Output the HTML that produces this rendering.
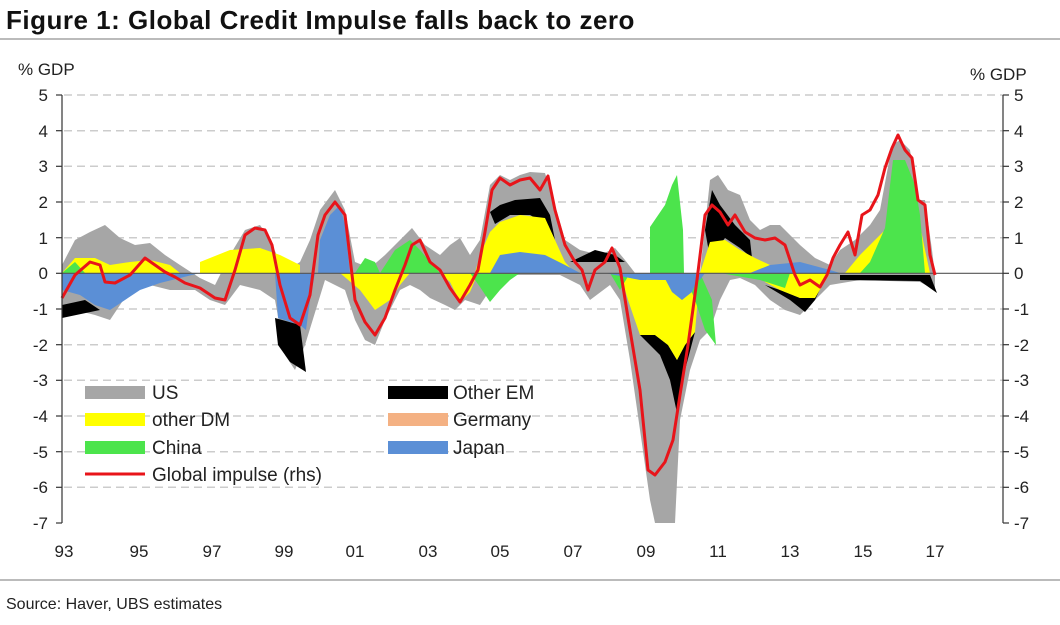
<!DOCTYPE html>
<html><head><meta charset="utf-8"><style>
body{margin:0;background:#fff;width:1060px;height:620px;overflow:hidden;font-family:"Liberation Sans",sans-serif}
</style></head><body>
<svg width="1060" height="620" xmlns="http://www.w3.org/2000/svg" font-family="Liberation Sans, sans-serif">
<text x="6" y="29" font-size="26" font-weight="bold" fill="#111" letter-spacing="0.5">Figure 1: Global Credit Impulse falls back to zero</text>
<rect x="0" y="38" width="1060" height="2" fill="#bbb"/>
<rect x="0" y="579" width="1060" height="2" fill="#bbb"/>
<text x="6" y="609" font-size="16" fill="#222">Source:  Haver, UBS estimates</text>
<text x="18" y="75" font-size="17" fill="#222">% GDP</text>
<text x="970" y="80" font-size="17" fill="#222">% GDP</text>
<g stroke="#ccc" stroke-dasharray="8,5" stroke-width="1.5">
<line x1="64" x2="1003" y1="95" y2="95"/><line x1="64" x2="1003" y1="130.7" y2="130.7"/><line x1="64" x2="1003" y1="166.3" y2="166.3"/><line x1="64" x2="1003" y1="202" y2="202"/><line x1="64" x2="1003" y1="237.7" y2="237.7"/><line x1="64" x2="1003" y1="309" y2="309"/><line x1="64" x2="1003" y1="344.7" y2="344.7"/><line x1="64" x2="1003" y1="380.3" y2="380.3"/><line x1="64" x2="1003" y1="416" y2="416"/><line x1="64" x2="1003" y1="451.7" y2="451.7"/><line x1="64" x2="1003" y1="487.3" y2="487.3"/>
</g>
<polygon fill="#a6a6a6" points="62,265 75,240 90,232 105,225 120,238 135,245 150,243 165,255 180,265 200,278 215,285 230,255 245,230 260,225 270,240 280,262 290,268 300,262 310,240 320,210 335,190 345,210 355,262 370,268 385,255 400,240 412,228 425,245 440,255 450,245 460,238 470,255 480,240 490,185 500,175 510,180 520,175 530,172 545,173 555,205 565,240 580,250 600,255 615,248 625,260 635,273 700,273 710,180 718,175 728,190 740,195 750,220 760,230 770,225 780,225 790,235 800,245 815,258 830,265 840,250 855,240 870,225 880,210 892,145 900,140 910,150 918,200 925,200 932,250 935,275 935,290 920,282 860,280 830,285 815,300 800,315 785,310 770,300 755,285 740,278 730,280 720,300 710,330 700,340 690,370 680,420 675,523 655,523 650,500 640,430 630,360 620,300 610,285 590,300 580,285 560,275 510,275 490,290 480,305 465,300 455,310 445,305 430,298 420,290 410,285 400,290 385,320 375,345 365,340 355,320 345,290 325,280 305,345 295,370 285,355 275,300 260,290 240,285 225,305 210,300 195,290 170,290 150,285 130,290 110,320 95,315 75,310 62,318"/>
<g fill="#000">
<polygon points="275,318 300,325 306,372 290,362 278,345"/>
<polygon points="640,335 660,355 670,380 677,413 685,370 695,332 685,345 677,360 668,345 655,335"/>
<polygon points="705,230 712,190 720,205 735,225 750,240 752,258 740,248 725,238 710,258"/>
<polygon points="490,212 500,205 515,200 540,198 550,215 555,240 548,225 530,215 510,215 495,224"/>
<polygon points="765,285 790,300 805,312 815,300 822,285 810,298 800,298 780,290"/>
<polygon points="840,275 930,275 937,293 920,281 840,280"/>
<polygon points="62,305 85,300 100,310 62,318"/>
<polygon points="570,262 595,250 615,255 625,262 600,262"/>
</g>
<g fill="#ffff00">
<polygon points="200,262 230,250 260,248 280,255 300,265 300,273 200,273"/>
<polygon points="475,273 480,255 490,232 500,222 520,215 545,218 555,240 565,262 575,273"/>
<polygon points="620,273 700,273 695,332 685,345 677,360 668,345 655,335 640,335 628,300"/>
<polygon points="700,273 710,242 725,240 740,250 755,258 770,265 770,273"/>
<polygon points="760,273 830,273 815,298 800,298 780,290 765,282"/>
<polygon points="440,273 450,282 460,302 470,292 478,273"/>
<polygon points="340,273 360,290 375,310 390,300 400,285 410,273"/>
<polygon points="845,273 860,255 880,235 890,225 920,225 925,250 930,273"/>
<polygon points="62,273 75,258 95,258 110,265 130,262 150,260 170,265 180,273"/>
</g>
<g fill="#4ce44c">
<polygon points="650,273 650,227 665,205 672,185 677,175 683,230 684,273"/>
<polygon points="684,273 700,273 712,300 716,345 705,330 695,300"/>
<polygon points="860,273 870,262 885,228 893,160 905,160 915,185 920,215 925,273"/>
<polygon points="380,273 395,250 410,240 420,250 430,262 440,273"/>
<polygon points="355,273 365,258 375,262 380,273"/>
<polygon points="470,273 480,287 490,302 500,290 510,280 520,273"/>
<polygon points="62,273 75,262 85,273"/>
<polygon points="720,273 760,280 785,288 790,273"/>
<polygon points="610,273 620,290 630,273"/>
</g>
<g fill="#5b8fd6">
<polygon points="62,273 62,290 80,295 95,305 110,310 125,300 140,290 160,283 180,278 200,273"/>
<polygon points="275,273 278,318 300,325 306,330 310,300 315,273"/>
<polygon points="318,273 320,240 330,215 340,205 345,225 350,273"/>
<polygon points="490,273 500,255 520,252 545,255 565,265 580,273"/>
<polygon points="605,273 640,280 700,280 705,273"/>
<polygon points="662,273 672,292 682,300 692,292 700,273"/>
<polygon points="750,273 770,265 800,262 830,270 840,273"/>
</g>
<line x1="62" x2="1003" y1="273.3" y2="273.3" stroke="#555" stroke-width="1.2"/>
<polyline fill="none" stroke="#e8141a" stroke-width="3" stroke-linejoin="round" points="62,298 75,275 90,262 100,265 105,282 115,283 130,275 145,258 155,265 165,272 175,277 185,283 200,288 215,298 225,300 235,270 245,235 255,228 265,230 272,245 280,285 290,318 300,325 310,295 318,235 325,215 335,202 345,215 355,300 365,322 375,335 385,318 395,290 405,265 412,245 420,240 430,262 440,270 450,288 460,302 470,285 478,270 485,232 492,190 500,178 510,185 520,180 530,178 540,190 548,176 555,210 565,245 575,262 582,270 588,290 595,270 605,262 612,248 620,268 630,330 640,390 648,470 655,475 665,462 673,440 680,395 688,345 697,280 705,215 712,205 720,212 728,225 735,215 745,232 755,238 765,240 775,238 785,245 795,275 800,285 810,280 820,287 827,275 833,258 840,245 848,232 855,255 862,215 870,210 878,195 885,168 892,148 898,135 905,150 912,158 918,200 925,205 930,255 935,275"/>
<g stroke="#333" stroke-width="1.2">
<line x1="62" x2="62" y1="95" y2="523"/><line x1="1003" x2="1003" y1="95" y2="523"/>
<line x1="56" x2="62" y1="95" y2="95"/><line x1="56" x2="62" y1="130.7" y2="130.7"/><line x1="56" x2="62" y1="166.3" y2="166.3"/><line x1="56" x2="62" y1="202" y2="202"/><line x1="56" x2="62" y1="237.7" y2="237.7"/><line x1="56" x2="62" y1="273.3" y2="273.3"/><line x1="56" x2="62" y1="309" y2="309"/><line x1="56" x2="62" y1="344.7" y2="344.7"/><line x1="56" x2="62" y1="380.3" y2="380.3"/><line x1="56" x2="62" y1="416" y2="416"/><line x1="56" x2="62" y1="451.7" y2="451.7"/><line x1="56" x2="62" y1="487.3" y2="487.3"/><line x1="56" x2="62" y1="523" y2="523"/>
<line x1="1003" x2="1009" y1="95" y2="95"/><line x1="1003" x2="1009" y1="130.7" y2="130.7"/><line x1="1003" x2="1009" y1="166.3" y2="166.3"/><line x1="1003" x2="1009" y1="202" y2="202"/><line x1="1003" x2="1009" y1="237.7" y2="237.7"/><line x1="1003" x2="1009" y1="273.3" y2="273.3"/><line x1="1003" x2="1009" y1="309" y2="309"/><line x1="1003" x2="1009" y1="344.7" y2="344.7"/><line x1="1003" x2="1009" y1="380.3" y2="380.3"/><line x1="1003" x2="1009" y1="416" y2="416"/><line x1="1003" x2="1009" y1="451.7" y2="451.7"/><line x1="1003" x2="1009" y1="487.3" y2="487.3"/><line x1="1003" x2="1009" y1="523" y2="523"/>
</g>
<g font-size="17" fill="#222" text-anchor="end">
<text x="48" y="101">5</text><text x="48" y="137">4</text><text x="48" y="172">3</text><text x="48" y="208">2</text><text x="48" y="244">1</text><text x="48" y="279">0</text><text x="48" y="315">-1</text><text x="48" y="351">-2</text><text x="48" y="386">-3</text><text x="48" y="422">-4</text><text x="48" y="458">-5</text><text x="48" y="493">-6</text><text x="48" y="529">-7</text>
</g>
<g font-size="17" fill="#222" text-anchor="start">
<text x="1014" y="101">5</text><text x="1014" y="137">4</text><text x="1014" y="172">3</text><text x="1014" y="208">2</text><text x="1014" y="244">1</text><text x="1014" y="279">0</text><text x="1014" y="315">-1</text><text x="1014" y="351">-2</text><text x="1014" y="386">-3</text><text x="1014" y="422">-4</text><text x="1014" y="458">-5</text><text x="1014" y="493">-6</text><text x="1014" y="529">-7</text>
</g>
<g font-size="17" fill="#222" text-anchor="middle">
<text x="64" y="557">93</text><text x="139" y="557">95</text><text x="212" y="557">97</text><text x="284" y="557">99</text><text x="355" y="557">01</text><text x="428" y="557">03</text><text x="500" y="557">05</text><text x="573" y="557">07</text><text x="646" y="557">09</text><text x="718" y="557">11</text><text x="790" y="557">13</text><text x="863" y="557">15</text><text x="935" y="557">17</text>
</g>
<rect x="85" y="386" width="60" height="13" fill="#a6a6a6"/><text x="152" y="399" font-size="19" fill="#222">US</text>
<rect x="85" y="413" width="60" height="13" fill="#ffff00"/><text x="152" y="426" font-size="19" fill="#222">other DM</text>
<rect x="85" y="441" width="60" height="13" fill="#4ce44c"/><text x="152" y="454" font-size="19" fill="#222">China</text>
<line x1="85" x2="145" y1="474" y2="474" stroke="#e8141a" stroke-width="3"/><text x="152" y="481" font-size="19" fill="#222">Global impulse (rhs)</text>
<rect x="388" y="386" width="60" height="13" fill="#000"/><text x="453" y="399" font-size="19" fill="#222">Other EM</text>
<rect x="388" y="413" width="60" height="13" fill="#f4b183"/><text x="453" y="426" font-size="19" fill="#222">Germany</text>
<rect x="388" y="441" width="60" height="13" fill="#5b8fd6"/><text x="453" y="454" font-size="19" fill="#222">Japan</text>
</svg>
</body></html>
